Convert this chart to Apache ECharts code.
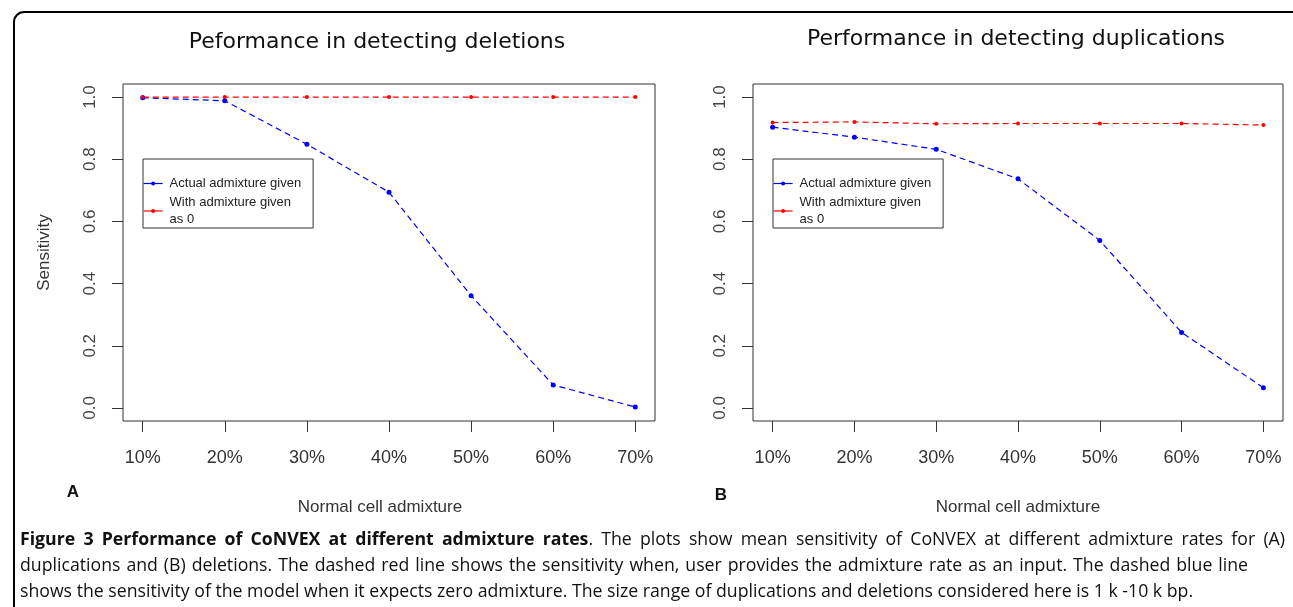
<!DOCTYPE html>
<html>
<head>
<meta charset="utf-8">
<script src="https://cdn.jsdelivr.net/npm/echarts@6/dist/echarts.min.js"></script>
<style>
* { margin: 0; padding: 0; }
html, body { background: #fff; }
</style>
</head>
<body>
<!-- chart container -->
<div id="main" style="width:1293px;height:607px;"></div>
<script>
// admixture rates (x values, in %)
var admixture = [10, 20, 30, 40, 50, 60, 70];
// panel A: deletions
var delActual = [0.998, 0.988, 0.848, 0.694, 0.361, 0.074, 0.003];
var delZero = [1.0, 1.0, 1.0, 1.0, 1.0, 1.0, 1.0];
// panel B: duplications
var dupActual = [0.903, 0.871, 0.832, 0.737, 0.539, 0.243, 0.065];
var dupZero = [0.918, 0.920, 0.914, 0.915, 0.915, 0.915, 0.910];
// tick labels
var yTicks = [0, 0.2, 0.4, 0.6, 0.8, 1.0];
var xTicks = [10, 20, 30, 40, 50, 60, 70];

var nameActual = 'Actual admixture given';
var nameZero = 'With admixture given as 0';

function pairs(xs, ys) {
  return xs.map(function (x, i) { return [x, ys[i]]; });
}

var axisFont = 'Liberation Sans, Arial, sans-serif';

function makeX(idx) {
  return {
    type: 'value', gridIndex: idx, min: 7.6, max: 72.4,
    name: 'Normal cell admixture', nameLocation: 'middle', nameGap: 78,
    nameTextStyle: { fontFamily: axisFont, fontSize: 17, color: '#333', padding: idx === 0 ? [0, 18, 0, 0] : 0 },
    axisLine: { show: false, onZero: false },
    splitLine: { show: false },
    axisTick: { show: true, length: 11, customValues: xTicks, lineStyle: { color: '#333' } },
    axisLabel: {
      customValues: xTicks, margin: 28, fontFamily: axisFont, fontSize: 18, color: '#333',
      formatter: function (v) { return v + '%'; }
    }
  };
}
function makeY(idx, withName) {
  return {
    type: 'value', gridIndex: idx, min: -0.042, max: 1.042,
    name: withName ? 'Sensitivity' : '', nameLocation: 'middle', nameGap: 70, nameRotate: 90,
    nameTextStyle: { fontFamily: axisFont, fontSize: 17, color: '#333' },
    axisLine: { show: false, onZero: false },
    splitLine: { show: false },
    axisTick: { show: true, length: 11, customValues: yTicks, lineStyle: { color: '#333' } },
    axisLabel: {
      customValues: yTicks, rotate: 90, margin: 24, fontFamily: axisFont, fontSize: 17, color: '#444',
      formatter: function (v) { return v.toFixed(1); }
    }
  };
}
function makeSeries(name, data, color, idx, size) {
  return {
    name: name, type: 'line', xAxisIndex: idx, yAxisIndex: idx,
    data: pairs(admixture, data),
    symbol: 'circle', symbolSize: size,
    itemStyle: { color: color },
    lineStyle: { color: color, width: 1.2, type: [6, 4] },
    silent: true, animation: false
  };
}
function makeLegend(left) {
  return {
    left: left, top: 159, orient: 'vertical', selectedMode: false,
    data: [nameActual, nameZero],
    borderColor: '#333', borderWidth: 1,
    padding: [16, 12, 0, 0], itemGap: 2, itemWidth: 19, itemHeight: 5,
    lineStyle: { type: 'solid', width: 1.2 },
    textStyle: { fontFamily: axisFont, fontSize: 13, color: '#222', lineHeight: 17, padding: [0, 0, 0, 2] },
    formatter: function (n) { return n === nameZero ? 'With admixture given\nas 0' : n; }
  };
}

// caption, laid out word by word so lines 1-2 are justified like the figure
var capFont = '"Open Sans", "Noto Sans", sans-serif';
var capSize = 17.7;
var capLines = [
  { y: 540, right: 1285, words: [['Figure', 1], ['3', 1], ['Performance', 1], ['of', 1], ['CoNVEX', 1], ['at', 1], ['different', 1], ['admixture', 1], ['rates', 1, '.'],
    ['The', 0], ['plots', 0], ['show', 0], ['mean', 0], ['sensitivity', 0], ['of', 0], ['CoNVEX', 0], ['at', 0], ['different', 0], ['admixture', 0], ['rates', 0], ['for', 0], ['(A)', 0]] },
  { y: 566, right: 1248, text: 'duplications and (B) deletions. The dashed red line shows the sensitivity when, user provides the admixture rate as an input. The dashed blue line' },
  { y: 592, right: null, text: 'shows the sensitivity of the model when it expects zero admixture. The size range of duplications and deletions considered here is 1 k -10 k bp.' }
];

var ctx = document.createElement('canvas').getContext('2d');
function measure(s, bold) {
  ctx.font = (bold ? 'bold ' : '') + capSize + 'px ' + capFont;
  return ctx.measureText(s).width;
}
function captionGraphics() {
  var out = [];
  capLines.forEach(function (ln) {
    var words = ln.words || ln.text.split(' ').map(function (w) { return [w, 0]; });
    var widths = words.map(function (w) { return measure(w[0], w[1]) + (w[2] ? measure(w[2], 0) : 0); });
    var total = widths.reduce(function (a, b) { return a + b; }, 0);
    var gap = ln.right ? (ln.right - 20 - total) / (words.length - 1) : measure(' ', 0);
    var x = 20;
    words.forEach(function (w, i) {
      out.push({
        type: 'text', x: x, y: ln.y, silent: true,
        style: {
          text: w[1] ? '{b|' + w[0] + '}' + (w[2] || '') : w[0],
          fontFamily: capFont, fontSize: capSize, fill: '#111', verticalAlign: 'middle',
          rich: { b: { fontFamily: capFont, fontSize: capSize, fontWeight: 'bold', fill: '#111' } }
        }
      });
      x += widths[i] + gap;
    });
  });
  return out;
}

var chart = echarts.init(document.getElementById('main'));
chart.setOption({
  animation: false,
  title: [
    { text: 'Peformance in detecting deletions', left: 372, top: 26, textAlign: 'center',
      textStyle: { fontFamily: 'DejaVu Sans', fontSize: 22, fontWeight: 'normal', color: '#111' } },
    { text: 'Performance in detecting duplications', left: 1011, top: 23, textAlign: 'center',
      textStyle: { fontFamily: 'DejaVu Sans', fontSize: 22, fontWeight: 'normal', color: '#111' } }
  ],
  grid: [
    { left: 123, top: 84, width: 532, height: 337, show: true, borderColor: '#333', borderWidth: 1 },
    { left: 753, top: 84, width: 530, height: 337, show: true, borderColor: '#333', borderWidth: 1 }
  ],
  xAxis: [makeX(0), makeX(1)],
  yAxis: [makeY(0, true), makeY(1, false)],
  legend: [makeLegend(143), makeLegend(773)],
  series: [
    makeSeries(nameActual, delActual, '#0000ff', 0, 5),
    makeSeries(nameZero, delZero, '#ff0000', 0, 4),
    makeSeries(nameActual, dupActual, '#0000ff', 1, 5),
    makeSeries(nameZero, dupZero, '#ff0000', 1, 4)
  ],
  graphic: [
    { type: 'rect', shape: { x: 14, y: 12, width: 1300, height: 620, r: 10 },
      style: { fill: 'none', stroke: '#000', lineWidth: 2 }, z: -1 },
    { type: 'text', x: 73, y: 492, style: { text: 'A', font: 'bold 17px Liberation Sans, Arial', fill: '#111', textAlign: 'center', textVerticalAlign: 'middle' } },
    { type: 'text', x: 721, y: 495, style: { text: 'B', font: 'bold 17px Liberation Sans, Arial', fill: '#111', textAlign: 'center', textVerticalAlign: 'middle' } }
  ].concat(captionGraphics())
});
</script>
</body>
</html>
